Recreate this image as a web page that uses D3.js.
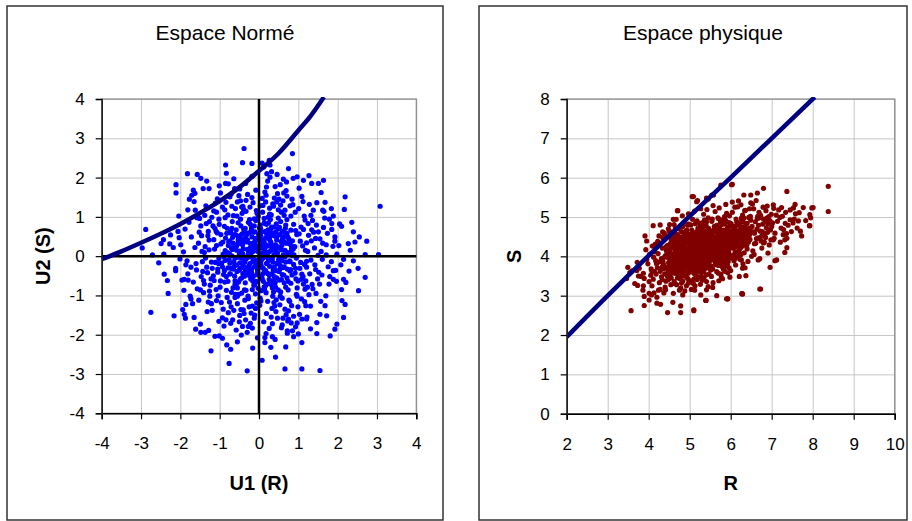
<!DOCTYPE html>
<html><head><meta charset="utf-8">
<script src="https://cdn.jsdelivr.net/npm/d3@7/dist/d3.min.js"></script>
<style>body{margin:0;background:#fff}svg{display:block}text{font-family:"Liberation Sans",Arial,sans-serif;fill:#000}</style>
</head><body><svg id="c" width="912" height="521"></svg>
<script>
const normTitle = "Espace Normé";
const physTitle = "Espace physique";
const normXLabel = "U1 (R)", normYLabel = "U2 (S)";
const physXLabel = "R", physYLabel = "S";
const normXTicks = [-4,-3,-2,-1,0,1,2,3,4];
const normYTicks = [-4,-3,-2,-1,0,1,2,3,4];
const physXTicks = [2,3,4,5,6,7,8,9,10];
const physYTicks = [0,1,2,3,4,5,6,7,8];

// limit-state curve in normed space
const normCurveU1 = [-4,-3.5,-3,-2.5,-2,-1.5,-1,-0.5,0,0.5,1,1.3,1.65];
const normCurveU2 = [-0.08,0.12,0.34,0.57,0.82,1.1,1.4,1.75,2.17,2.62,3.2,3.55,4.05];
// limit-state line in physical space
const physLineR = [2,3,4,5,6,7,8.05];
const physLineS = [1.95,3.0,4.02,5.02,6.0,7.0,8.05];

// sample in normed space (U1, U2)
const normPoints = [
[0.12,0.35],[-0.25,-0.41],[0.47,0.08],[-0.63,0.22],[0.31,-0.72],[-0.08,0.91],[0.76,0.44],[-0.52,-0.66],[0.05,-0.13],[0.88,-0.21],
[-0.91,0.05],[0.23,0.67],[-0.34,0.48],[0.59,-0.47],[-0.17,-0.85],[0.41,0.29],[-0.71,-0.31],[0.14,-0.38],[-0.46,0.77],[0.67,0.71],
[-0.03,0.18],[0.35,-0.15],[-0.28,0.04],[0.82,0.12],[-0.59,0.54],[0.18,-0.93],[-0.83,-0.52],[0.52,0.55],[-0.12,-0.27],[0.07,0.62],
[-0.39,-0.12],[0.64,-0.68],[-0.74,0.39],[0.29,0.93],[-0.21,-0.58],[0.95,-0.05],[-0.49,0.13],[0.11,-0.64],[-0.66,-0.81],[0.44,0.82],
[-0.15,0.33],[0.72,-0.33],[-0.95,-0.18],[0.26,0.11],[-0.37,0.63],[0.58,0.27],[-0.06,-0.47],[0.39,-0.52],[-0.81,0.71],[0.03,0.79],
[-0.57,-0.23],[0.85,0.39],[-0.22,0.21],[0.49,-0.86],[-0.44,-0.94],[0.17,0.47],[-0.69,0.01],[0.62,0.03],[-0.11,-0.73],[0.33,0.58],
[-0.31,-0.31],[0.91,0.24],[-0.78,0.27],[0.08,-0.29],[-0.53,0.41],[0.71,-0.55],[-0.19,0.68],[0.54,-0.24],[-0.88,-0.37],[0.22,-0.44],
[-0.01,0.55],[0.45,0.41],[-0.62,-0.51],[0.15,0.14],[-0.35,-0.68],[0.78,-0.12],[-0.42,0.29],[0.37,-0.91],[-0.72,0.59],[0.01,-0.02],
[-0.27,0.86],[0.63,0.61],[-0.97,0.31],[0.27,-0.26],[-0.09,-0.96],[0.84,-0.48],[-0.55,-0.03],[0.19,0.81],[-0.41,-0.44],[0.57,0.16],
[-0.64,-0.14],[0.09,0.42],[-0.23,-0.19],[0.43,-0.37],[-0.79,-0.64],[0.69,0.33],[-0.14,0.12],[0.32,0.74],[-0.47,0.94],[0.96,0.55],
[-0.04,-0.35],[0.51,-0.61],[-0.86,0.14],[0.24,0.26],[-0.33,-0.87],[0.75,0.06],[-0.58,0.67],[0.13,-0.78],[-0.18,0.49],[0.66,-0.02],
[-0.76,-0.09],[0.38,0.52],[-0.29,0.17],[0.06,-0.57],[-0.51,-0.36],[0.87,0.18],[-0.67,0.48],[0.28,-0.63],[-0.13,-0.08],[0.55,0.88],
[-0.93,-0.27],[0.16,0.23],[-0.36,0.39],[0.61,-0.29],[-0.24,-0.49],[0.42,0.15],[-0.61,-0.72],[0.04,0.71],[-0.45,-0.05],[0.79,-0.38],
[-0.07,0.27],[0.34,-0.06],[-0.85,0.46],[0.48,0.69],[-0.16,-0.63],[0.73,0.49],[-0.54,0.31],[0.21,-0.17],[-0.38,-0.28],[0.93,-0.31],
[-0.02,-0.82],[0.56,0.37],[-0.73,-0.45],[0.1,0.05],[-0.26,0.59],[0.68,-0.79],[-0.48,-0.59],[0.3,0.36],[-0.89,-0.02],[0.02,-0.51],
[-0.2,0.08],[0.46,-0.19],[-0.68,0.17],[0.25,0.55],[-0.43,0.57],[0.81,0.66],[-0.1,0.38],[0.36,-0.35],[-0.6,-0.97],[0.6,0.45],
[-0.32,-0.04],[0.13,0.96],[-0.77,0.36],[0.5,-0.08],[-0.05,-0.22],[0.74,-0.64],[-0.5,0.06],[0.2,-0.71],[-0.35,0.71],[0.89,0.03],
[1.21,0.34],[-1.14,-0.62],[0.45,1.38],[-0.38,-1.46],[1.52,-0.41],[-1.63,0.22],[0.92,1.12],[-0.87,1.18],[1.08,-1.09],[-1.25,-1.02],
[0.15,1.63],[-0.22,-1.71],[1.74,0.58],[-1.48,0.77],[0.66,-1.35],[-0.71,-1.29],[1.36,0.91],[-1.02,0.94],[1.19,-0.63],[-1.33,-0.28],
[0.31,-1.55],[-0.47,1.41],[1.61,-0.08],[-1.81,-0.45],[0.84,1.45],[-1.11,1.35],[1.45,-0.95],[-0.93,-1.57],[0.03,1.28],[-0.09,-1.33],
[1.88,0.25],[-1.57,-0.83],[0.57,-1.82],[-0.62,1.72],[1.28,1.32],[-1.38,1.04],[1.03,-1.48],[-1.19,-1.38],[0.22,1.91],[-0.3,-1.94],
[1.67,0.97],[-1.72,0.49],[0.76,-1.12],[-0.81,-1.05],[1.13,0.68],[-1.06,0.59],[1.42,-0.22],[-1.44,-0.14],[0.49,1.18],[-0.55,-1.21],
[1.95,-0.36],[-1.92,0.11],[0.97,-1.7],[-0.98,1.61],[1.55,0.44],[-1.27,0.41],[0.38,-1.18],[-0.43,1.09],[1.31,-1.27],[-1.53,-1.12],
[0.12,-1.67],[-0.18,1.49],[1.78,-0.71],[-1.67,-0.66],[0.69,1.67],[-0.74,1.51],[1.24,0.12],[-1.21,-0.15],[0.88,-1.53],[-0.89,-1.78],
[1.09,1.52],[-1.17,0.77],[1.49,-0.58],[-1.59,-0.35],[0.27,1.07],[-0.36,-1.12],[1.71,0.29],[-1.78,0.86],[0.61,-1.58],[-0.67,-1.62],
[1.38,1.17],[-1.35,1.28],[1.17,-0.84],[-1.09,-0.85],[0.08,1.47],[-0.12,-1.58],[1.84,-0.14],[-1.86,-0.22],[0.79,1.28],[-0.84,1.37],
[1.57,-1.15],[-1.41,-0.93],[0.43,-1.41],[-0.51,1.54],[1.26,0.53],[-1.29,0.63],[1.04,-0.31],[-1.05,-0.41],[0.54,1.82],[-0.58,-1.88],
[1.64,0.73],[-1.62,1.17],[0.95,-0.97],[-0.96,-1.18],[1.15,1.02],[-1.08,1.12],[1.35,-0.72],[-1.47,-0.52],[0.19,1.76],[-0.27,-1.79],
[1.93,0.49],[-1.96,-0.61],[0.72,-1.96],[-0.78,1.84],[1.47,1.36],[-1.51,0.96],[1.22,-1.55],[-1.32,-1.41],[0.35,1.33],[-0.4,-1.37],
[1.11,0.26],[-1.13,0.18],[1.29,-0.45],[-1.24,-0.74],[0.64,1.04],[-0.65,1.03],[0.83,-1.26],[-0.78,-1.44],[1.58,0.12],[-1.54,0.33],
[1.8,-0.52],[-1.75,-1.02],[0.26,-1.84],[-0.34,1.85],[1.02,1.73],[-1.01,1.79],[1.7,-1.01],[-1.69,-1.21],[0.47,1.59],[-0.5,-1.67],
[1.33,0.39],[-1.37,0.24],[1.06,-0.16],[-1.16,-0.5],[0.71,1.53],[-0.69,1.27],[0.93,-1.8],[-1.02,-1.66],[1.25,0.83],[-1.26,0.88],
[1.44,-0.34],[-1.43,-0.39],[0.05,-1.14],[-0.07,1.16],[1.65,1.14],[-1.65,1.39],[0.59,-1.07],[-0.61,-1.05],[1.98,0.05],[-1.99,0.29],
[0.81,1.02],[-0.86,0.98],[1.16,-1.16],[-1.21,-1.21],[0.4,-1.27],[-0.44,1.25],[1.51,0.62],[-1.46,0.52],[1.37,-0.83],[-1.39,-0.71],
[0.17,1.38],[-0.2,-1.45],[1.12,1.39],[-1.06,1.46],[0.99,-0.63],[-1.03,-0.19],[1.76,-0.27],[-1.83,-0.12],[0.73,-1.65],[-0.72,-1.71],
[2.05,0.82],[-2.12,-0.31],[0.46,2.08],[-0.55,-2.18],[2.21,-0.67],[-2.25,0.54],[1.58,1.62],[-1.49,-1.73],[2.32,0.15],[-2.31,-0.95],
[0.97,2.02],[-1.12,-2.04],[2.11,-1.13],[-2.04,1.02],[1.84,1.21],[-1.77,1.45],[0.12,2.27],[-0.16,-2.34],[2.44,0.36],[-2.42,0.05],
[1.31,-1.85],[-1.28,-1.89],[2.17,1.19],[-1.94,-1.36],[0.68,-2.31],[-0.83,2.11],[1.72,-1.52],[-1.87,-1.58],
[-0.38,2.74],[0.85,2.61],[-0.85,2.32],[-0.42,2.38],[-0.18,2.36],[0.08,2.37],[0.26,2.44],[0.28,2.32],[0.75,2.23],[0.2,2.1],
[0.32,2.15],[-1.82,2.1],[-1.57,2.08],[-1.48,1.98],[-2.11,1.82],[-2.11,1.61],[-1.67,1.68],[-1.63,1.6],[-1.71,1.55],[-1.42,1.72],
[-1.27,1.72],[-0.85,1.85],[3.08,1.27],[2.19,1.51],[1.13,1.93],[1.34,1.85],[1.51,1.85],[1.64,1.93],[0.7,1.89],[0.87,1.98],
[-2.88,0.68],[-2.71,0.03],[-2.97,0.21],[-2.43,0.42],[-2.49,0.32],[-2.18,0.22],[-2.03,0.47],[2.7,0.04],[3.04,0.04],[2.74,0.38],
[2.55,0.49],[2.4,0.62],[2.27,0.32],[2.1,0.76],[1.89,1.02],[1.85,0.83],[1.93,0.38],[1.68,1.37],[1.62,1.17],
[-2.75,-1.43],[-2.16,-1.52],[-1.9,-1.48],[-1.65,-1.56],[-2.41,-0.46],[-2.12,-0.37],[-1.9,-0.59],[-1.8,-0.61],[-1.73,-1.09],[-1.86,-1.23],
[-1.22,-2.41],[-0.76,-2.73],[-0.82,-2.26],[-0.72,-2.37],[-0.3,-2.92],[0.08,-2.65],[0.42,-2.57],[0.66,-2.87],[1.09,-2.87],[1.55,-2.91],
[1.09,-2.2],[0.3,-2.32],[0.15,-2.2],[0.15,-2.07],[0.34,-2.05],[-1.01,-2.03],[-1.48,-1.94],[-1.37,-1.94],[1.81,-2.03],[1.93,-1.86],
[1.98,-1.73],[2.19,-1.23],[2.15,-1.56],[2.53,-0.88],[2.7,-0.54],[2.15,-0.59],[2.1,-0.85],[2.4,-0.12],[2.15,-0.08],[1.89,-0.37],
[1.89,-0.59],[1.55,-1.48],[1.68,-1.26],[1.21,-1.6],[1.09,-1.6],[1.0,-1.98],[0.85,-1.9],[0.72,-1.9],[0.75,-1.6],[1.47,-1.69],
[0.06,0.21],[-0.19,-0.33],[0.38,0.04],[-0.57,0.15],[0.26,-0.59],[-0.12,0.77],[0.64,0.37],[-0.44,-0.55],[0.09,-0.06],[0.79,-0.14],
[-0.8,0.09],[0.19,0.58],[-0.29,0.41],[0.51,-0.39],[-0.13,-0.74],[0.36,0.22],[-0.62,-0.24],[0.11,-0.31],[-0.39,0.69],[0.59,0.63],
[-0.02,0.11],[0.29,-0.09],[-0.23,-0.02],[0.73,0.09],[-0.52,0.47],[0.14,-0.84],[-0.74,-0.45],[0.45,0.48],[-0.08,-0.19],[0.04,0.53],
[-0.33,-0.07],[0.57,-0.6],[-0.66,0.33],[0.24,0.85],[-0.17,-0.5],[0.86,0.01],[-0.42,0.07],[0.08,-0.56],[-0.58,-0.73],[0.38,0.74],
[-0.11,0.27],[0.64,-0.27],[-0.86,-0.11],[0.21,0.05],[-0.31,0.55],[0.51,0.21],[-0.03,-0.4],[0.33,-0.45],[-0.72,0.64],[0.01,0.72],
[-0.49,-0.17],[0.77,0.32],[-0.18,0.15],[0.42,-0.79],[-0.37,-0.86],[0.13,0.4],[-0.61,-0.05],[0.55,-0.03],[-0.08,-0.66],[0.28,0.51],
[-0.26,-0.25],[0.83,0.19],[-0.7,0.21],[0.05,-0.22],[-0.46,0.34],[0.63,-0.48],[-0.15,0.61],[0.47,-0.17],[-0.79,-0.3],[0.17,-0.37],
[1.02,0.57],[-1.05,-0.33],[0.31,1.05],[-0.27,-1.08],[1.12,-0.52],[-1.15,0.42],[0.71,0.93],[-0.68,0.88],[0.97,-0.81],[-0.99,-0.79],
[0.09,1.12],[-0.06,-1.19],[1.18,0.15],[-1.09,0.63],[0.54,-1.02],[-0.55,-1.02],[1.07,0.74],[-0.88,0.76],[0.92,-0.43],[-1.11,-0.16],
[0.22,-1.15],[-0.33,1.14],[1.16,-0.21],[-1.22,-0.58],[0.66,1.17],[-0.79,1.05],[1.13,-0.71],[-0.75,-1.17],[-0.02,1.02],[0.03,-1.07],
[0.18,0.29],[-0.36,-0.15],[0.42,0.61],[-0.53,0.85],[0.68,-0.15],[-0.87,-0.66],[0.34,-0.81],[-0.24,0.93],[0.81,-0.69],[-0.63,0.55],
[0.1,1.29],[-0.15,1.36],[0.27,1.22],[-0.41,1.27],[0.55,1.3],[-0.6,1.21],[0.39,1.48],[-0.29,1.57],[0.61,1.41],[-0.08,1.68],
[0.02,-1.25],[-0.25,-1.29],[0.33,-1.33],[-0.46,-1.36],[0.53,-1.24],[-0.64,-1.38],[0.19,-1.46],[-0.11,-1.5],[0.47,-1.58],[-0.34,-1.62],
[0.02,0.02],[-0.04,-0.11],[0.07,0.31],[-0.09,0.45],[0.1,-0.45],[-0.14,-0.52],[0.16,0.63],[-0.06,-0.64],[0.13,0.84],[-0.1,0.62],
[0.24,-0.08],[-0.22,0.32],[0.31,0.15],[-0.3,-0.47],[0.37,-0.62],[-0.4,0.19],[0.44,0.27],[-0.47,-0.31],[0.52,0.73],[-0.56,-0.39],
[1.41,0.21],[-1.39,0.09],[1.32,-0.1],[-1.31,-0.42],[1.46,0.79],[-1.52,0.61],[1.27,-0.98],[-1.41,-0.62],[1.62,0.33],[-1.6,-0.19],
[1.54,-0.71],[-1.58,0.98],[1.71,0.03],[-1.73,-0.28],[1.39,0.61],[-1.2,0.99],[1.21,-0.28],[-1.27,0.16],[1.6,-0.48],[-1.49,-0.86],
[0.86,1.31],[-0.93,1.25],[0.75,-1.39],[-0.91,-1.35],[1.01,1.21],[-1.15,1.15],[0.99,-1.29],[-1.08,-1.13],[0.63,1.61],[-0.71,1.58],
[0.82,-1.7],[-0.84,-1.62],[1.32,1.04],[-1.34,0.83],[1.19,-1.26],[-1.29,-1.17],[0.41,1.77],[-0.49,1.71],[0.59,-1.75],[-0.42,-1.79],
[1.85,0.68],[-1.88,0.69],[1.97,-0.64],[-1.91,-0.87],[1.79,0.94],[-1.81,1.18],[2.03,0.27],[-2.01,-0.07],[2.08,-0.22],[-2.06,0.63],
[0.28,2.01],[-0.18,2.03],[0.62,1.96],[-0.64,1.97],[-0.04,-2.08],[0.41,-2.12],[-0.45,-2.01],[0.88,-2.05],[-0.93,-2.09],[0.18,-1.97],
[2.29,-0.38],[-2.27,0.31],[2.36,0.86],[-2.33,-0.62],[1.47,-1.97],[-1.61,-1.86],[1.27,2.05],[-1.33,1.91],[2.52,-0.31],[-2.55,-0.17],
[0.15,-0.02],[-0.07,0.41],[0.33,0.26],[-0.41,-0.22],[0.58,-0.12],[-0.19,0.74],[0.71,0.58],[-0.65,-0.33],[0.26,-0.48],[-0.31,0.36],
[0.49,0.97],[-0.56,1.02],[0.88,0.81],[-0.97,0.55],[0.94,-0.58],[-1.02,-0.06],[0.06,-0.88],[-0.28,-1.02],[0.44,-1.11],[-0.7,-0.92],
[0.12,0.19],[-0.16,-0.14],[0.39,-0.27],[-0.48,0.52],[0.66,0.15],[-0.82,0.58],[0.23,0.99],[-0.05,1.09],[0.81,-0.34],[-0.9,-0.47],
[1.05,0.38],[-1.08,0.27],[0.57,1.12],[-0.39,1.19],[0.97,-1.02],[-0.83,-0.87],[0.35,-1.02],[-0.17,-1.27],[1.21,-0.13],[-1.19,-0.31],
[0.04,0.37],[-0.27,0.13],[0.19,-0.19],[-0.37,-0.51],[0.62,0.49],[-0.69,0.71],[0.74,-0.86],[-0.55,-0.81],[0.29,0.67],[-0.12,0.95],
[1.34,0.67],[-1.3,0.52],[1.23,-0.79],[-1.26,-0.89],[0.51,1.45],[-0.55,1.38],[0.69,-1.49],[-0.49,-1.51],[1.5,0.02],[-1.45,0.12],
[0.09,0.08],[-0.13,0.22],[0.27,0.42],[-0.34,-0.36],[0.45,-0.55],[-0.57,0.26],[0.82,0.27],[-0.74,-0.18],[0.17,-0.75],[-0.22,0.81],
[0.93,0.65],[-1.01,0.81],[0.55,-0.91],[-0.61,-0.63],[1.09,-0.46],[-0.92,0.36],[0.37,1.27],[-0.23,1.25],[0.78,-1.15],[-1.04,-1.01],
[0.01,0.45],[-0.03,-0.29],[0.21,0.62],[-0.44,0.44],[0.53,-0.33],[-0.75,0.06],[0.68,0.79],[-0.52,-0.97],[0.41,-0.68],[-0.19,-0.41],
[1.17,0.92],[-1.12,0.71],[1.08,-0.59],[-0.98,-0.63],[0.18,1.55],[-0.33,1.42],[0.34,-1.72],[-0.17,-1.83],[1.44,0.45],[-1.36,-0.05]
];

// sample in physical space (R, S)
const physPoints = [
[4.05,3.52],[4.12,3.98],[4.21,3.71],[4.33,4.21],[4.42,3.37],[4.08,3.25],[4.27,3.86],[4.38,4.45],[4.15,4.12],[4.47,3.62],
[3.98,3.81],[4.24,3.14],[4.35,3.95],[4.44,4.03],[4.18,3.55],[4.29,4.34],[4.02,4.05],[4.4,3.22],[4.11,3.42],[4.46,4.28],
[4.31,3.48],[4.22,4.38],[4.37,3.07],[4.06,3.68],[4.49,3.85],[4.17,3.89],[4.26,3.33],[4.43,3.72],[4.09,4.26],[4.34,4.62],
[4.2,2.96],[4.45,4.51],[4.14,3.61],[4.39,3.99],[4.28,3.16],[4.48,3.41],[4.01,3.36],[4.36,3.79],[4.23,4.07],[4.13,3.07],
[4.52,3.84],[4.61,4.23],[4.73,3.51],[4.85,4.41],[4.94,3.96],[4.57,4.62],[4.68,3.28],[4.79,4.05],[4.88,3.73],[4.98,4.56],
[4.55,3.45],[4.64,4.11],[4.77,4.72],[4.83,3.37],[4.96,4.18],[4.59,3.92],[4.71,4.35],[4.81,3.89],[4.9,4.64],[4.53,4.33],
[4.66,3.66],[4.75,3.14],[4.87,4.02],[4.99,3.61],[4.62,4.81],[4.7,3.97],[4.8,4.49],[4.92,3.25],[4.56,3.71],[4.69,4.55],
[4.78,3.79],[4.89,4.27],[4.97,4.82],[4.6,3.06],[4.72,4.16],[4.84,3.58],[4.93,4.03],[4.54,4.07],[4.67,3.83],[4.76,4.29],
[4.86,4.86],[4.95,3.44],[4.58,4.47],[4.74,3.68],[4.82,4.13],[4.91,3.9],[4.63,3.57],[4.88,3.12],[4.51,3.96],[4.79,4.63],
[4.65,4.39],[4.73,3.92],[4.84,4.3],[4.97,4.37],[4.57,3.86],[4.68,4.02],[4.77,3.43],[4.92,4.46],[4.61,3.77],[4.86,3.66],
[4.53,4.19],[4.7,4.71],[4.81,3.99],[4.95,4.09],[4.63,3.31],[4.75,4.44],[4.9,3.82],[4.55,3.63],[4.69,4.24],[4.83,4.76],
[4.98,3.78],[4.6,4.94],[4.78,3.2],[4.87,4.2],[4.66,4.58],[4.93,4.67],[4.52,3.53],[4.74,4.1],[4.85,3.5],[4.71,3.87],
[5.02,4.21],[5.11,3.85],[5.23,4.57],[5.34,3.62],[5.45,4.33],[5.07,4.94],[5.18,3.41],[5.29,4.12],[5.4,4.78],[5.49,3.91],
[5.05,3.67],[5.15,4.39],[5.26,3.98],[5.37,4.49],[5.47,3.55],[5.09,4.06],[5.2,4.71],[5.31,3.78],[5.42,4.18],[5.03,4.51],
[5.13,3.25],[5.24,4.27],[5.36,4.92],[5.46,4.02],[5.06,3.89],[5.17,4.62],[5.28,3.49],[5.39,4.06],[5.48,4.65],[5.01,3.38],
[5.12,4.15],[5.22,3.84],[5.33,4.38],[5.44,3.71],[5.08,4.44],[5.19,4.01],[5.3,4.85],[5.41,3.36],[5.5,4.24],[5.04,4.08],
[5.14,4.83],[5.25,3.66],[5.35,4.22],[5.45,4.98],[5.1,3.57],[5.21,4.34],[5.32,3.93],[5.43,4.55],[5.02,3.99],[5.16,3.72],
[5.27,4.46],[5.38,3.85],[5.48,4.36],[5.07,4.29],[5.18,4.9],[5.29,3.59],[5.4,4.11],[5.05,4.67],[5.24,4.04],[5.35,3.46],
[5.46,4.71],[5.12,3.96],[5.31,4.58],[5.42,3.97],[5.09,3.31],[5.2,4.17],[5.37,4.29],[5.47,3.79],[5.01,4.37],[5.26,4.76],
[5.15,3.52],[5.33,4.0],[5.44,4.41],[5.06,3.78],[5.22,4.43],[5.39,3.7],[5.49,4.12],[5.11,4.58],[5.28,4.07],[5.04,3.16],
[5.19,3.8],[5.36,4.64],[5.45,3.23],[5.13,4.24],[5.3,3.39],[5.41,4.88],[5.08,4.12],[5.25,3.89],[5.34,5.07],[5.17,4.5],
[5.43,4.27],[5.03,4.8],[5.21,3.62],[5.38,4.15],[5.27,3.02],
[5.52,4.41],[5.61,3.95],[5.73,4.72],[5.84,4.11],[5.95,4.58],[5.56,3.68],[5.67,4.31],[5.78,4.92],[5.89,3.83],[5.98,4.27],
[5.54,4.89],[5.65,4.04],[5.76,3.55],[5.87,4.45],[5.97,5.03],[5.59,4.22],[5.7,3.77],[5.81,4.36],[5.92,3.97],[5.53,3.49],
[5.64,4.63],[5.75,4.19],[5.86,4.82],[5.96,3.71],[5.58,4.06],[5.69,4.98],[5.8,3.92],[5.91,4.54],[5.55,4.28],[5.66,3.61],
[5.77,4.48],[5.88,4.05],[5.99,4.41],[5.6,4.76],[5.71,4.14],[5.82,3.68],[5.93,4.73],[5.57,3.92],[5.68,4.47],[5.79,4.24],
[5.9,5.09],[5.51,4.15],[5.62,5.14],[5.74,3.84],[5.85,4.29],[5.94,3.87],[5.63,4.38],[5.72,4.59],[5.83,4.67],[5.95,4.19],
[5.56,4.52],[5.67,3.86],[5.78,4.03],[5.89,4.34],[5.52,3.75],[5.64,4.21],[5.75,4.87],[5.86,3.62],[5.97,4.62],[5.58,4.67],
[5.69,4.02],[5.81,4.56],[5.92,4.26],[5.54,4.03],[5.66,4.79],[5.77,3.48],[5.88,4.91],[5.99,3.99],[5.61,4.43],[5.73,4.27],
[5.84,4.43],[5.96,4.86],[5.57,3.33],[5.7,4.96],[5.82,4.13],[5.93,3.58],[5.63,3.8],[5.76,4.65],[5.87,3.97],[5.53,4.63],
[5.68,4.25],[5.79,3.74],[5.91,4.69],[5.6,4.13],[5.85,5.01],
[6.02,4.57],[6.11,4.12],[6.23,4.86],[6.34,4.38],[6.45,4.71],[6.07,3.95],[6.18,4.64],[6.29,5.05],[6.4,4.19],[6.49,4.92],
[6.04,5.12],[6.15,4.29],[6.26,3.91],[6.37,4.81],[6.47,4.43],[6.09,4.76],[6.2,4.47],[6.31,4.61],[6.42,3.87],[6.03,4.35],
[6.13,4.95],[6.24,4.22],[6.36,5.17],[6.46,4.55],[6.06,4.03],[6.17,5.26],[6.28,4.75],[6.39,4.28],[6.48,5.02],[6.01,4.83],
[6.12,3.78],[6.22,4.54],[6.33,4.09],[6.44,4.99],[6.08,4.45],[6.19,3.99],[6.3,4.88],[6.41,4.51],[6.05,4.66],[6.16,4.52],
[6.27,4.33],[6.38,4.67],[6.14,4.06],[6.25,5.31],[6.35,3.71],[6.1,5.25],[6.21,4.16],[6.43,4.36],[6.32,4.97],[6.46,5.21],
[6.03,4.23],[6.24,4.69],[6.4,4.84],[6.12,4.4],[6.3,4.48],
[6.52,4.76],[6.61,4.33],[6.73,5.04],[6.84,4.58],[6.95,4.91],[6.56,5.21],[6.67,4.47],[6.78,4.82],[6.89,5.28],[6.98,4.42],
[6.54,4.14],[6.65,4.96],[6.76,4.21],[6.87,4.73],[6.58,4.59],[6.69,5.12],[6.8,4.95],[6.91,4.08],[6.53,5.33],[6.64,4.69],
[6.75,4.51],[6.86,5.16],[6.97,4.67],[6.6,4.88],[6.71,3.94],[6.82,4.36],[6.93,5.01],[6.57,4.05],[6.68,4.79],[6.79,5.25],
[6.9,4.61],[6.62,5.42],[6.85,4.87],[6.72,4.64],[6.94,4.29],
[7.02,4.85],[7.11,5.05],[7.23,4.72],[7.34,5.12],[7.45,4.93],[7.06,4.46],[7.17,5.18],[7.29,4.68],[7.4,4.79],[7.14,4.89],
[7.21,4.36],[7.05,5.22],[7.36,4.58],[7.26,5.02],[7.48,4.63],
[7.55,4.95],[7.62,4.72],[7.83,4.91],[7.58,5.08],[7.7,4.64],[7.95,4.98],[7.52,4.85],[7.67,5.11],
[3.72,3.85],[3.81,3.49],[3.66,3.31],[3.93,4.17],[3.86,3.14],[3.77,3.7],[3.95,3.92],[3.89,2.98],
[8.38,5.78],[8.38,5.14],[7.37,5.65],[6.8,5.73],[8.01,5.24],[7.77,5.24],[7.57,5.32],[7.93,5.06],[7.93,4.78],[7.73,4.52],
[7.65,4.9],[7.37,4.22],[7.32,4.1],[7.12,3.91],[6.96,3.72],[6.71,3.17],[6.27,3.05],[5.93,2.92],[5.39,2.88],[5.1,2.64],
[6.04,5.83],[5.76,5.81],[6.49,5.56],[6.65,5.61],[7.24,5.24],[7.45,5.18],[7.04,5.31],[6.88,4.97],[7.2,4.99],[7.33,4.84],
[7.0,4.76],[7.28,4.55],[7.32,4.42],[7.08,4.59],[5.09,5.52],[6.32,5.56],[6.02,5.82],[4.7,5.16],[3.91,4.52],[4.11,4.78],
[4.28,4.8],[5.45,5.46],[5.54,5.56],[5.17,5.39],[7.53,5.23],[7.98,5.23],[7.92,4.78],[7.37,4.46],[7.04,4.42],[6.8,4.34],
[3.57,2.62],[3.89,2.75],[4.46,2.57],[4.78,2.57],[5.1,2.62],[3.49,3.72],[3.59,3.63],[3.46,3.44],[3.73,3.26],[3.87,3.57],
[3.89,3.44],[4.07,3.02],[4.01,2.89],[4.2,2.81],[4.29,2.78],[4.59,2.83],[4.78,2.74],[5.4,2.88],[5.66,3.0],[5.92,2.92],
[6.28,3.05],[6.73,3.17],[7.08,3.89],[5.8,3.43],[5.98,3.47],[6.21,3.49],[6.37,3.51],[6.29,3.7],[6.67,3.91],[6.51,4.0],
[3.95,4.39],[4.48,4.7],[4.71,5.16],[5.06,5.52],[5.19,5.42],[5.41,5.48],[5.58,5.56],[3.54,3.59],[3.71,3.64],[3.75,3.5],
[3.87,3.25],[4.01,3.06],[5.9,2.92],[6.29,3.04],
[4.31,3.94],[4.39,3.55],[4.45,4.11],[4.52,3.71],[4.58,4.27],[4.64,3.89],[4.69,4.43],[4.74,3.61],[4.79,4.19],[4.84,3.84],
[4.89,4.52],[4.94,3.71],[4.99,4.22],[5.03,3.93],[5.08,4.61],[5.12,3.67],[5.17,4.26],[5.21,3.95],[5.26,4.55],[5.31,3.71],
[5.35,4.33],[5.39,4.01],[5.44,4.62],[5.48,3.87],[5.52,4.29],[5.57,4.06],[5.61,4.69],[5.66,3.91],[5.7,4.36],[5.75,4.01],
[5.79,4.65],[5.84,3.88],[5.89,4.47],[5.94,4.13],[5.99,4.77],[6.05,4.21],[6.11,4.69],[6.17,4.11],[6.23,4.58],[6.29,4.26],
[4.36,3.68],[4.42,4.24],[4.49,3.83],[4.55,4.42],[4.6,3.64],[4.66,4.16],[4.71,3.75],[4.76,4.36],[4.81,3.99],[4.86,4.59],
[4.91,4.12],[4.96,3.57],[5.01,4.32],[5.05,3.79],[5.1,4.49],[5.14,4.08],[5.19,3.65],[5.23,4.38],[5.28,4.12],[5.33,4.73],
[5.37,3.92],[5.42,4.44],[5.46,4.16],[5.51,3.65],[5.55,4.58],[5.59,4.31],[5.64,3.79],[5.68,4.53],[5.73,4.09],[5.78,4.81],
[5.82,4.24],[5.87,3.75],[5.91,4.36],[5.96,4.02],[6.02,4.47],[6.08,3.89],[6.14,4.59],[6.2,4.33],[6.26,4.97],[6.32,4.41],
[4.33,3.41],[4.47,3.97],[4.62,3.36],[4.77,3.95],[4.92,3.48],[5.06,4.17],[5.21,3.48],[5.36,4.08],[5.51,3.97],[5.66,4.22],
[5.81,3.83],[5.96,4.45],[6.11,3.95],[6.27,4.62],[4.41,4.02],[4.57,3.58],[4.72,4.06],[4.87,3.62],[5.02,4.01],[5.18,4.33],
[5.32,3.84],[5.47,4.51],[5.62,3.85],[5.77,4.38],[5.92,3.78],[6.07,4.51],[6.22,3.93],[4.5,4.63],[4.65,4.72],[4.8,3.32],
[4.95,4.79],[5.1,3.42],[5.25,4.84],[5.4,3.53],[5.55,4.95],[5.7,3.57],[5.85,4.97],[6.0,3.64],[6.15,4.87],[6.3,3.81],
[4.28,3.62],[4.34,4.48],[4.41,3.15],[4.56,4.02],[4.63,4.49],[4.7,3.45],[4.78,3.88],[4.85,4.25],[4.93,3.87],[5.0,3.71],
[5.07,4.22],[5.14,3.93],[5.22,4.08],[5.29,4.29],[5.36,3.77],[5.43,4.08],[5.5,4.47],[5.58,3.97],[5.65,4.45],[5.72,3.95],
[5.8,4.3],[5.87,4.15],[5.95,4.32],[6.03,3.96],[6.1,4.39],[6.18,4.79],[6.25,4.05],[6.33,4.57],[6.4,4.42],[6.47,4.67],
[6.55,4.62],[6.63,4.45],[6.7,4.98],[6.77,4.63],[6.85,4.48],[6.92,4.84],[6.99,5.07],[6.58,4.32],[6.66,5.02],[6.74,4.39],
[4.46,3.49],[4.54,3.28],[4.68,3.57],[4.83,3.02],[4.97,3.32],[5.12,3.14],[5.26,3.29],[5.41,3.15],[5.56,3.21],[5.71,3.38],
[4.38,4.59],[4.51,4.81],[4.67,4.94],[4.82,5.03],[4.97,5.08],[5.12,5.15],[5.27,5.21],[5.42,5.19],[5.57,5.29],[5.72,5.23],
[5.88,5.32],[6.04,5.38],[6.19,5.41],[6.34,5.16],[6.49,5.36],[4.25,4.52],[4.19,3.81],[4.32,3.72],[4.08,3.62],[4.16,4.31],
[5.04,4.43],[5.13,4.02],[5.22,4.19],[5.31,4.42],[5.4,4.23],[5.49,4.04],[5.58,4.22],[5.67,4.09],[5.76,4.31],[5.85,4.53],
[4.64,4.28],[4.73,4.47],[4.82,3.74],[4.91,4.33],[5.0,4.14],[5.09,3.82],[5.18,4.11],[5.27,3.83],[5.36,4.55],[5.45,3.83],
[4.88,4.09],[4.95,4.48],[5.02,3.85],[5.1,4.27],[5.17,3.97],[5.24,4.65],[5.31,4.05],[5.38,4.37],[5.46,3.98],[5.53,4.52],
[5.6,4.27],[5.67,4.64],[5.74,4.41],[5.81,3.99],[5.88,4.62],[5.95,4.09],[4.58,3.81],[4.66,4.33],[4.73,3.71],[4.8,4.21],
[4.51,4.14],[4.62,3.99],[4.72,4.52],[4.83,3.93],[4.93,4.39],[5.03,4.12],[5.13,4.47],[5.23,3.73],[5.33,4.17],[5.43,3.92],
[5.53,4.36],[5.63,4.12],[5.73,3.87],[5.83,4.22],[5.93,4.45],[6.03,4.63],[6.13,4.25],[6.23,4.41],[6.33,4.73],[6.43,4.59],
[4.99,4.04],[5.07,3.73],[5.15,4.13],[5.25,4.21],[5.34,3.89],[5.42,4.33],[5.51,4.08],[5.6,3.91],[5.69,4.18],[5.78,4.57],
[4.35,3.86],[4.43,4.15],[4.53,3.77],[4.61,4.36],[4.71,4.11],[4.8,3.67],[4.9,4.02],[4.99,4.45],[5.09,4.36],[5.18,3.87],
[5.27,4.35],[5.37,4.01],[5.47,4.25],[5.56,4.42],[5.66,4.0],[5.75,4.12],[5.86,4.38],[5.97,4.52],[6.08,4.29],[6.18,4.53]
];

const svg = d3.select("#c");
const fmt = d => String(d);

function drawPanel(o) {
  const g = svg.append("g");
  g.append("rect").attr("x", o.fx).attr("y", o.fy).attr("width", o.fw).attr("height", o.fh)
    .attr("fill", "#fff").attr("stroke", "#333").attr("stroke-width", 1.5);
  g.append("text").attr("x", o.tx).attr("y", 40).attr("text-anchor", "middle")
    .attr("font-size", 21).text(o.title);

  const x = d3.scaleLinear().domain(o.xd).range([o.x0, o.x1]);
  const y = d3.scaleLinear().domain(o.yd).range([o.y1, o.y0]);
  const W = o.x1 - o.x0, H = o.y1 - o.y0;

  g.append("g").attr("transform", `translate(0,${o.y1})`)
    .call(d3.axisBottom(x).tickValues(o.xt).tickSize(-H).tickFormat(""))
    .call(s => s.select(".domain").remove())
    .call(s => s.selectAll("line").attr("stroke", "#c6c6c6").attr("stroke-width", 1));
  g.append("g").attr("transform", `translate(${o.x0},0)`)
    .call(d3.axisLeft(y).tickValues(o.yt).tickSize(-W).tickFormat(""))
    .call(s => s.select(".domain").remove())
    .call(s => s.selectAll("line").attr("stroke", "#c6c6c6").attr("stroke-width", 1));
  g.append("rect").attr("x", o.x0).attr("y", o.y0).attr("width", W).attr("height", H)
    .attr("fill", "none").attr("stroke", "#8a8a8a").attr("stroke-width", 1.2);

  const clipId = "clip" + o.id;
  svg.append("clipPath").attr("id", clipId).append("rect")
    .attr("x", o.x0).attr("y", o.y0 - 2).attr("width", W).attr("height", H + 2);

  g.append("g").selectAll("circle").data(o.points).join("circle")
    .attr("cx", d => x(d[0])).attr("cy", d => y(d[1])).attr("r", 2.6).attr("fill", o.color);

  if (o.zeroLines) {
    g.append("line").attr("x1", x(0)).attr("x2", x(0)).attr("y1", y(o.yd[0])).attr("y2", y(o.yd[1]))
      .attr("stroke", "#000").attr("stroke-width", 2.5);
    g.append("line").attr("x1", x(o.xd[0])).attr("x2", x(o.xd[1])).attr("y1", y(0)).attr("y2", y(0))
      .attr("stroke", "#000").attr("stroke-width", 2.5);
  }

  const line = d3.line().x((d, i) => x(o.lx[i])).y((d, i) => y(o.ly[i])).curve(d3.curveMonotoneX);
  g.append("path").datum(o.lx).attr("d", line).attr("fill", "none")
    .attr("stroke", "#000080").attr("stroke-width", o.lw).attr("clip-path", `url(#${clipId})`);

  const xa = g.append("g").attr("transform", `translate(0,${o.y1})`)
    .call(d3.axisBottom(x).tickValues(o.xt).tickSize(6).tickPadding(18).tickFormat(fmt));
  xa.select(".domain").attr("stroke", "#000").attr("stroke-width", 1.6);
  xa.selectAll("line").attr("stroke", "#000").attr("stroke-width", 1.2);
  xa.selectAll("text").attr("font-size", 17).attr("font-family", "Liberation Sans, Arial, sans-serif").attr("fill", "#000");
  const ya = g.append("g").attr("transform", `translate(${o.x0},0)`)
    .call(d3.axisLeft(y).tickValues(o.yt).tickSize(6).tickPadding(11).tickFormat(fmt));
  ya.select(".domain").attr("stroke", "#222").attr("stroke-width", 1.6);
  ya.selectAll("line").attr("stroke", "#000").attr("stroke-width", 1.2);
  ya.selectAll("text").attr("font-size", 17).attr("font-family", "Liberation Sans, Arial, sans-serif").attr("fill", "#000");

  g.append("text").attr("x", (o.x0 + o.x1) / 2).attr("y", 490).attr("text-anchor", "middle")
    .attr("font-size", 20).attr("font-weight", "bold").text(o.xl);
  g.append("text").attr("transform", `translate(${o.ylx},${(o.y0 + o.y1) / 2}) rotate(-90)`)
    .attr("text-anchor", "middle").attr("font-size", 20).attr("font-weight", "bold").text(o.yl);
}

drawPanel({
  id: "n", fx: 7, fy: 6, fw: 436, fh: 514, tx: 225, title: normTitle,
  xd: [-4, 4], yd: [-4, 4], x0: 101.7, x1: 416.3, y0: 99, y1: 413.3,
  xt: normXTicks, yt: normYTicks, points: normPoints, color: "#0000ff",
  zeroLines: true, lx: normCurveU1, ly: normCurveU2, xl: normXLabel, yl: normYLabel, ylx: 50, lw: 4.5
});
drawPanel({
  id: "p", fx: 479, fy: 6, fw: 428, fh: 514, tx: 703, title: physTitle,
  xd: [2, 10], yd: [0, 8], x0: 566.7, x1: 894.7, y0: 99, y1: 413.7,
  xt: physXTicks, yt: physYTicks, points: physPoints, color: "#800000",
  zeroLines: false, lx: physLineR, ly: physLineS, xl: physXLabel, yl: physYLabel, ylx: 521, lw: 4.5
});
</script></body></html>
